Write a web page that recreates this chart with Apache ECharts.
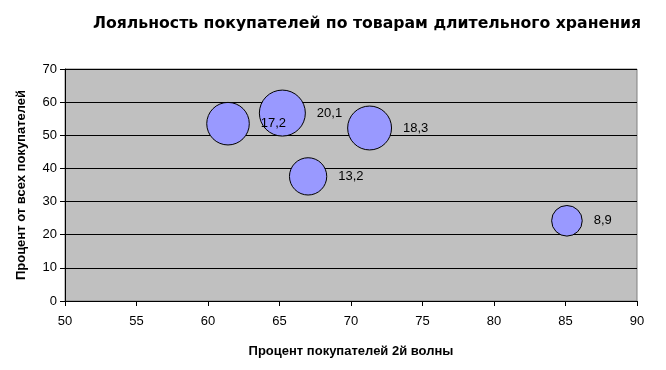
<!DOCTYPE html>
<html><head><meta charset="utf-8">
<script src="https://cdn.jsdelivr.net/npm/echarts@6/dist/echarts.min.js"></script>
<style>html,body{margin:0;padding:0;background:#fff}#c{width:666px;height:370px}</style>
</head><body><div id="c"></div>
<script>
const xValues = [61.4, 65.2, 71.3, 67.0, 85.1];
const yValues = [53.5, 56.7, 52.2, 37.6, 24.2];
const sizeValues = [17.2, 20.1, 18.3, 13.2, 8.9];
const xTicks = [50, 55, 60, 65, 70, 75, 80, 85, 90];
const yTicks = [0, 10, 20, 30, 40, 50, 60, 70];

const data = xValues.map((x, i) => [x, yValues[i], sizeValues[i]]);
const font = 'Liberation Sans, Arial, sans-serif';
const chart = echarts.init(document.getElementById('c'));
chart.setOption({
  animation: false,
  title: {
    text: 'Лояльность покупателей по товарам длительного хранения',
    left: 362, top: 11, textAlign: 'center',
    textStyle: {fontFamily: 'DejaVu Sans', fontSize: 15.7, fontWeight: 'bold', color: '#000'}
  },
  grid: {left: 65, right: 29, top: 69, bottom: 69, show: true,
    backgroundColor: '#C0C0C0', borderColor: '#808080', borderWidth: 1},
  xAxis: {
    type: 'value', min: xTicks[0], max: xTicks[xTicks.length - 1], interval: 5,
    name: 'Процент покупателей 2й волны', nameLocation: 'middle', nameGap: 44,
    nameTextStyle: {fontFamily: font, fontSize: 13, fontWeight: 'bold', color: '#000'},
    axisLine: {show: true, lineStyle: {color: '#000'}},
    axisTick: {show: true, length: 5, inside: false, lineStyle: {color: '#000'}},
    axisLabel: {fontFamily: font, fontSize: 13, color: '#000', margin: 14},
    splitLine: {show: false}
  },
  yAxis: {
    type: 'value', min: yTicks[0], max: yTicks[yTicks.length - 1], interval: 10,
    name: 'Процент от всех покупателей', nameLocation: 'middle', nameGap: 37,
    nameTextStyle: {fontFamily: font, fontSize: 13, fontWeight: 'bold', color: '#000'},
    axisLine: {show: true, lineStyle: {color: '#000'}},
    axisTick: {show: true, length: 5, inside: false, lineStyle: {color: '#000'}},
    axisLabel: {fontFamily: font, fontSize: 13, color: '#000', margin: 8},
    splitLine: {show: true, lineStyle: {color: '#000', width: 1}}
  },
  series: [{
    type: 'scatter',
    data: data,
    symbolSize: d => 10.26 * Math.sqrt(d[2]),
    itemStyle: {color: '#9999FF', borderColor: '#000', borderWidth: 1, opacity: 1},
    label: {
      show: true, position: 'right', distance: 11,
      formatter: p => String(p.value[2]).replace('.', ','),
      fontFamily: font, fontSize: 13, color: '#000'
    }
  }]
});
</script></body></html>
